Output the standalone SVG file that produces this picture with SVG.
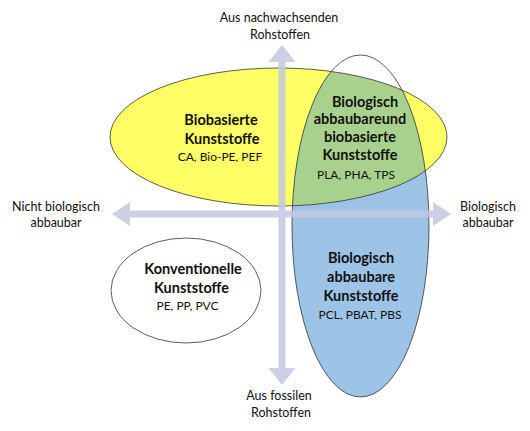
<svg xmlns="http://www.w3.org/2000/svg" width="530" height="431" viewBox="0 0 530 431">
<style>
.lbl{font-family:Lato,"Liberation Sans",sans-serif;font-size:12.5px;fill:#111;text-anchor:middle}
.b{font-family:Lato,"Liberation Sans",sans-serif;font-size:14.5px;font-weight:bold;fill:#111;text-anchor:middle}
.s{font-family:Lato,"Liberation Sans",sans-serif;font-size:12px;fill:#111;text-anchor:middle}
.ol{fill:none;stroke:#333;stroke-width:0.8}
.arr{fill:#c3c8e1}
</style>
<defs>
<clipPath id="yclip"><ellipse cx="278.5" cy="137" rx="168.5" ry="69"/></clipPath>
<clipPath id="lower"><rect x="0" y="137" width="530" height="300"/></clipPath>
</defs>
<g id="node-biobasiert">
<ellipse cx="278.5" cy="137" rx="168.5" ry="69" fill="#ffff66"/>
</g>
<g id="node-bioabbaubar">
<ellipse cx="360.5" cy="226" rx="68.5" ry="171" fill="#9dc3e6" clip-path="url(#lower)"/>
</g>
<g id="node-bio-both">
<ellipse cx="360.5" cy="226" rx="68.5" ry="171" fill="#a9d18e" clip-path="url(#yclip)"/>
</g>
<g id="node-konventionell">
<ellipse cx="186" cy="290.5" rx="75" ry="52.5" fill="#fff" class="ol"/>
</g>
<g id="outlines">
<ellipse cx="278.5" cy="137" rx="168.5" ry="69" class="ol"/>
<ellipse cx="360.5" cy="226" rx="68.5" ry="171" class="ol"/>
</g>
<g id="connectors" opacity="0.85">
<path class="arr" d="M282,45 L295.5,62 L285.5,62 L285.5,368 L295.5,368 L282,385 L268.5,368 L278.5,368 L278.5,62 L268.5,62 Z"/>
<path class="arr" d="M112,214 L130,202 L130,210.5 L433,210.5 L433,202 L451,214 L433,226 L433,217.5 L130,217.5 L130,226 Z"/>
</g>
<g id="axis-labels">
<text class="lbl" x="279" y="22">Aus nachwachsenden</text>
<text class="lbl" x="280" y="39">Rohstoffen</text>
<text class="lbl" x="279" y="400">Aus fossilen</text>
<text class="lbl" x="281" y="417">Rohstoffen</text>
<text class="lbl" x="56" y="211">Nicht biologisch</text>
<text class="lbl" x="56" y="227">abbaubar</text>
<text class="lbl" x="488" y="211">Biologisch</text>
<text class="lbl" x="488" y="227">abbaubar</text>
</g>
<g id="text-biobasiert">
<text class="b" x="221" y="125">Biobasierte</text>
<text class="b" x="222" y="143.5">Kunststoffe</text>
<text class="s" x="220" y="161">CA, Bio-PE, PEF</text>
</g>
<g id="text-bio-both">
<text class="b" x="365" y="107">Biologisch</text>
<text class="b" x="360" y="123.5">abbaubareund</text>
<text class="b" x="360" y="142">biobasierte</text>
<text class="b" x="360" y="160">Kunststoffe</text>
<text class="s" x="356" y="178.5">PLA, PHA, TPS</text>
</g>
<g id="text-konventionell">
<text class="b" x="193" y="273.5">Konventionelle</text>
<text class="b" x="191.5" y="292.5">Kunststoffe</text>
<text class="s" x="187.5" y="310">PE, PP, PVC</text>
</g>
<g id="text-bioabbaubar">
<text class="b" x="361" y="263">Biologisch</text>
<text class="b" x="361" y="282">abbaubare</text>
<text class="b" x="361" y="301">Kunststoffe</text>
<text class="s" x="360" y="319">PCL, PBAT, PBS</text>
</g>
</svg>
